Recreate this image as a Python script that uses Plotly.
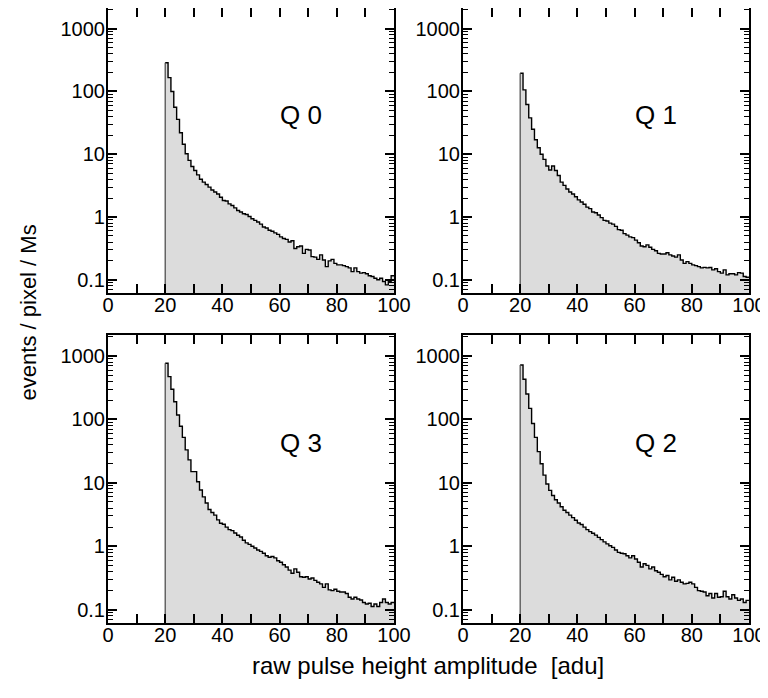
import plotly.graph_objs as go
import math

# histogram bins: 1 adu wide, from 20 to 100
bin_lo = list(range(20, 100))
bin_edges = list(range(20, 101))

q0 = [287, 166, 100, 56, 36, 22, 14.4, 10.2, 8.0, 6.4,
      5.5, 4.7, 4.0, 3.6, 3.3, 3.0, 2.7, 2.5, 2.33, 2.07,
      1.83, 1.8, 1.62, 1.53, 1.40, 1.27, 1.2, 1.13, 1.1, 1.02,
      0.94, 0.886, 0.835, 0.77, 0.695, 0.67, 0.616, 0.595, 0.56, 0.53,
      0.483, 0.455, 0.44, 0.40, 0.42, 0.316, 0.336, 0.345, 0.264, 0.305,
      0.298, 0.234, 0.23, 0.212, 0.25, 0.207, 0.162, 0.2, 0.212, 0.183,
      0.173, 0.173, 0.168, 0.162, 0.155, 0.135, 0.155, 0.135, 0.128, 0.13,
      0.125, 0.116, 0.113, 0.106, 0.1, 0.106, 0.094, 0.083, 0.094, 0.116]

q1 = [195, 106, 62, 38, 25, 17, 12.7, 10, 8.3, 6.5,
      5.6, 6.5, 5.5, 4.6, 3.6, 3.2, 2.8, 2.5, 2.33, 2.1,
      1.88, 1.74, 1.6, 1.44, 1.36, 1.2, 1.17, 1.08, 0.98, 0.886,
      0.865, 0.80, 0.77, 0.71, 0.63, 0.616, 0.545, 0.515, 0.483, 0.47,
      0.428, 0.39, 0.345, 0.336, 0.36, 0.33, 0.305, 0.29, 0.264, 0.258,
      0.258, 0.27, 0.25, 0.24, 0.23, 0.25, 0.207, 0.183, 0.195, 0.183,
      0.173, 0.168, 0.162, 0.155, 0.158, 0.155, 0.157, 0.144, 0.15, 0.135,
      0.128, 0.144, 0.12, 0.125, 0.125, 0.12, 0.13, 0.128, 0.113, 0.11]

q3 = [767, 472, 298, 190, 117, 78, 52, 33, 23, 15,
      15, 10.4, 7.7, 6.0, 4.8, 3.8, 3.4, 3.1, 2.6, 2.3,
      2.22, 2.0, 1.83, 1.76, 1.62, 1.49, 1.40, 1.24, 1.13, 1.07,
      1.0, 0.94, 0.875, 0.83, 0.775, 0.71, 0.67, 0.69, 0.655, 0.59,
      0.56, 0.51, 0.47, 0.42, 0.375, 0.44, 0.39, 0.33, 0.325, 0.33,
      0.305, 0.315, 0.29, 0.27, 0.255, 0.225, 0.255, 0.205, 0.2, 0.21,
      0.195, 0.19, 0.19, 0.18, 0.157, 0.147, 0.157, 0.147, 0.142, 0.13,
      0.123, 0.126, 0.112, 0.123, 0.112, 0.13, 0.147, 0.13, 0.123, 0.13]

q2 = [721, 428, 251, 149, 86, 52, 31, 20, 13.2, 9.6,
      7.6, 6.3, 5.4, 4.8, 4.2, 3.7, 3.4, 3.1, 2.83, 2.57,
      2.33, 2.2, 2.0, 1.83, 1.7, 1.6, 1.5, 1.38, 1.27, 1.17,
      1.09, 1.02, 0.96, 0.875, 0.80, 0.775, 0.76, 0.71, 0.655, 0.71,
      0.63, 0.56, 0.47, 0.53, 0.50, 0.44, 0.47, 0.41, 0.39, 0.36,
      0.33, 0.345, 0.295, 0.325, 0.28, 0.295, 0.27, 0.255, 0.26, 0.27,
      0.255, 0.225, 0.2, 0.195, 0.19, 0.166, 0.18, 0.153, 0.18, 0.157,
      0.16, 0.195, 0.16, 0.147, 0.172, 0.153, 0.14, 0.147, 0.13, 0.14]

panels = [("Q 0", q0), ("Q 1", q1), ("Q 3", q3), ("Q 2", q2)]

x_ticks = list(range(0, 101, 10))
x_labels = [str(v) if v % 20 == 0 else "" for v in x_ticks]
y_ticks = [0.1, 1, 10, 100, 1000]
y_labels = ["0.1", "1", "10", "100", "1000"]
y_minor = [m * 10.0 ** k for k in range(-2, 4) for m in range(2, 10)]

y_range = [-1.21, 3.33]
y_low = 10 ** y_range[0]

font = "Liberation Sans, Arial, sans-serif"

# panel domains (paper coords); page body adds an 8px offset
x_doms = [[0.1302, 0.5026], [0.5924, 0.9648]]
y_doms = [[0.5917, 1.0], [0.1189, 0.5315]]

fig = go.Figure()

for i, (name, vals) in enumerate(panels):
    n = "" if i == 0 else str(i + 1)
    xa, ya = "x" + n, "y" + n
    # filled step histogram
    fig.add_trace(go.Scatter(
        x=bin_edges, y=vals + [vals[-1]],
        mode="lines", line=dict(shape="hv", color="black", width=1.4),
        fill="tozeroy", fillcolor="#dcdcdc",
        xaxis=xa, yaxis=ya, showlegend=False, hoverinfo="skip"))
    # left edge of the histogram
    fig.add_trace(go.Scatter(
        x=[bin_lo[0], bin_lo[0]], y=[y_low, vals[0]],
        mode="lines", line=dict(color="#444444", width=1.2),
        xaxis=xa, yaxis=ya, showlegend=False, hoverinfo="skip"))
    fig.add_annotation(x=67.5, y=math.log10(43), xref=xa, yref=ya,
                       text=name, showarrow=False,
                       font=dict(family=font, size=26, color="black"))

    ax = dict(
        domain=x_doms[i % 2], anchor=ya, range=[0, 100], automargin=False,
        tickmode="array", tickvals=x_ticks, ticktext=x_labels,
        ticks="inside", ticklen=9, tickwidth=1.5, tickcolor="black",
        showline=True, linewidth=2, linecolor="black", mirror="ticks",
        showgrid=False, zeroline=False, ticklabelstandoff=-7,
        tickfont=dict(family=font, size=20, color="black"))
    ay = dict(
        domain=y_doms[i // 2], anchor=xa, type="log", range=y_range,
        automargin=False,
        tickmode="array", tickvals=y_ticks, ticktext=y_labels,
        ticks="inside", ticklen=9, tickwidth=1.5, tickcolor="black",
        minor=dict(tickmode="array", tickvals=y_minor, ticks="inside",
                   ticklen=5, tickwidth=1, tickcolor="black", showgrid=False),
        showline=True, linewidth=2, linecolor="black", mirror="ticks",
        showgrid=False, zeroline=False, ticklabelstandoff=-3,
        tickfont=dict(family=font, size=20, color="black"))
    fig.update_layout({"xaxis" + n: ax, "yaxis" + n: ay})

fig.add_annotation(x=0.5469, y=0.036, xref="paper", yref="paper",
                   text="raw pulse height amplitude \u00a0[adu]", showarrow=False,
                   font=dict(family=font, size=24, color="black"))
fig.add_annotation(x=0.009, y=0.5645, xref="paper", yref="paper",
                   text="events / pixel / Ms", textangle=-90, showarrow=False,
                   font=dict(family=font, size=22, color="black"))

fig.update_layout(
    width=768, height=698,
    margin=dict(l=0, r=0, t=0, b=0, autoexpand=False),
    paper_bgcolor="white", plot_bgcolor="white",
)

fig.write_html("out.html")
